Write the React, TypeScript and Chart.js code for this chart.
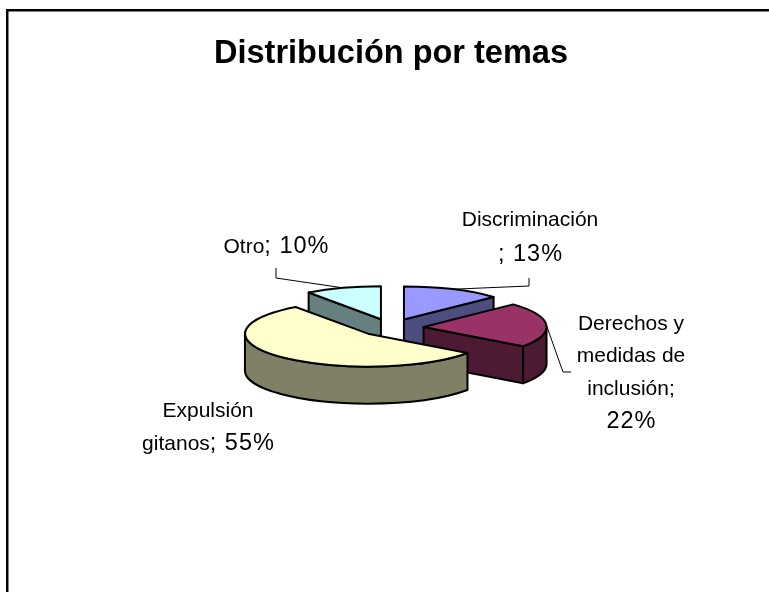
import React, { useEffect, useRef } from 'react';
import { Chart, registerables } from 'chart.js';

Chart.register(...registerables);

// ---- data ----
const TITLE = 'Distribución por temas';
const categories = ['Discriminación', 'Derechos y medidas de inclusión', 'Expulsión gitanos', 'Otro'];
const percentages = [13, 22, 55, 10];
const topColors = ['#9999FF', '#993366', '#FFFFCC', '#CCFFFF'];
const sideColors = ['#4D4D80', '#4D1A33', '#808066', '#668080'];
const labelLines = [
  ['Discriminación', `; ${percentages[0]}%`],
  ['Derechos y', 'medidas de', 'inclusión;', `${percentages[1]}%`],
  ['Expulsión', `gitanos; ${percentages[2]}%`],
  [`Otro; ${percentages[3]}%`],
];

// ---- styles / layout ----
const FONT = '"Liberation Sans", Arial, sans-serif';
const NAME_FONT = `21px ${FONT}`;
const VALUE_FONT = `23.5px ${FONT}`;
const VALUE_SPACING = 1;
const RADIUS = 123;
const TILT = 0.268;
const DEPTH = 37;
const EXPLODE = 32.6;
const labelLayout = [
  { cx: 530, top: 220, lh: 35, leader: [[529, 286], [529, 278]] },
  { cx: 631, top: 324, lh: 32.5, leader: [[563, 372], [571, 372]] },
  { cx: 208, top: 411, lh: 33, leader: [] as number[][] },
  { cx: 276, top: 247, lh: 33, leader: [[276, 278], [276, 268]] },
];

function sliceGeom(el: any) {
  const p = el.getProps(['x', 'y', 'startAngle', 'endAngle', 'outerRadius'], true);
  const mid = (p.startAngle + p.endAngle) / 2;
  const cx = p.x + EXPLODE * Math.cos(mid);
  const cy = p.y + EXPLODE * TILT * Math.sin(mid);
  return { ...p, mid, cx, cy, rx: p.outerRadius, ry: p.outerRadius * TILT };
}

function drawSlice(ctx: CanvasRenderingContext2D, el: any, i: number) {
  const g = sliceGeom(el);
  const P = (t: number, dz = 0) => [g.cx + g.rx * Math.cos(t), g.cy + g.ry * Math.sin(t) + dz];
  ctx.save();
  ctx.lineWidth = 2;
  ctx.strokeStyle = '#000';
  ctx.lineJoin = 'round';
  ctx.fillStyle = sideColors[i];
  // outer curved wall (front half only)
  for (let k = -1; k <= 1; k++) {
    const lo = Math.max(g.startAngle, 2 * Math.PI * k);
    const hi = Math.min(g.endAngle, 2 * Math.PI * k + Math.PI);
    if (hi > lo + 1e-6) {
      ctx.beginPath();
      ctx.ellipse(g.cx, g.cy, g.rx, g.ry, 0, lo, hi);
      const [bx, by] = P(hi, DEPTH);
      ctx.lineTo(bx, by);
      ctx.ellipse(g.cx, g.cy + DEPTH, g.rx, g.ry, 0, hi, lo, true);
      ctx.closePath();
      ctx.fill();
      ctx.stroke();
    }
  }
  // radial walls facing the viewer
  const walls: number[] = [];
  if (-Math.cos(g.startAngle) > 1e-6) walls.push(g.startAngle);
  if (Math.cos(g.endAngle) > 1e-6) walls.push(g.endAngle);
  for (const a of walls) {
    const [tx, ty] = P(a);
    ctx.beginPath();
    ctx.moveTo(g.cx, g.cy);
    ctx.lineTo(tx, ty);
    ctx.lineTo(tx, ty + DEPTH);
    ctx.lineTo(g.cx, g.cy + DEPTH);
    ctx.closePath();
    ctx.fill();
    ctx.stroke();
  }
  // top face drawn by the library's arc element, flattened
  ctx.save();
  ctx.translate(g.cx - g.x, g.cy);
  ctx.scale(1, TILT);
  ctx.translate(0, -g.y);
  el.draw(ctx);
  ctx.restore();
  // top outline
  ctx.beginPath();
  ctx.moveTo(g.cx, g.cy);
  ctx.ellipse(g.cx, g.cy, g.rx, g.ry, 0, g.startAngle, g.endAngle);
  ctx.closePath();
  ctx.stroke();
  ctx.restore();
}

function splitRuns(line: string): [string, string] {
  if (line.indexOf('%') < 0) return [line, ''];
  const idx = line.indexOf(';');
  if (idx >= 0) return [line.slice(0, idx), line.slice(idx)];
  return ['', line];
}

const pie3d = {
  id: 'pie3d',
  beforeDraw(chart: any) {
    const ctx = chart.ctx;
    ctx.save();
    ctx.fillStyle = '#fff';
    ctx.fillRect(0, 0, chart.width, chart.height);
    ctx.strokeStyle = '#000';
    ctx.lineWidth = 2.5;
    ctx.strokeRect(7.25, 10.25, 1000, 1000);
    ctx.restore();
  },
  beforeDatasetsDraw(chart: any) {
    const ctx = chart.ctx;
    const arcs = chart.getDatasetMeta(0).data;
    const order = arcs
      .map((_: any, i: number) => i)
      .sort((a: number, b: number) => Math.sin(sliceGeom(arcs[a]).mid) - Math.sin(sliceGeom(arcs[b]).mid));
    for (const i of order) drawSlice(ctx, arcs[i], i);
    return false;
  },
  afterDraw(chart: any) {
    const ctx = chart.ctx;
    const arcs = chart.getDatasetMeta(0).data;
    ctx.save();
    // leader lines
    ctx.strokeStyle = '#000';
    ctx.lineWidth = 1;
    arcs.forEach((el: any, i: number) => {
      const L = labelLayout[i];
      if (!L.leader.length) return;
      const g = sliceGeom(el);
      ctx.beginPath();
      ctx.moveTo(g.cx + g.rx * Math.cos(g.mid), g.cy + g.ry * Math.sin(g.mid));
      for (const [lx, ly] of L.leader) ctx.lineTo(lx, ly);
      ctx.stroke();
    });
    // labels
    ctx.fillStyle = '#000';
    ctx.textAlign = 'left';
    ctx.textBaseline = 'middle';
    labelLines.forEach((lines, i) => {
      const L = labelLayout[i];
      lines.forEach((t, j) => {
        const [name, value] = splitRuns(t);
        const y = L.top + j * L.lh;
        (ctx as any).letterSpacing = '0px';
        ctx.font = NAME_FONT;
        const w1 = name ? ctx.measureText(name).width : 0;
        ctx.font = VALUE_FONT;
        (ctx as any).letterSpacing = `${VALUE_SPACING}px`;
        const w2 = value ? ctx.measureText(value).width - VALUE_SPACING : 0;
        const x0 = L.cx - (w1 + w2) / 2;
        if (name) {
          (ctx as any).letterSpacing = '0px';
          ctx.font = NAME_FONT;
          ctx.fillText(name, x0, y);
        }
        if (value) {
          ctx.font = VALUE_FONT;
          (ctx as any).letterSpacing = `${VALUE_SPACING}px`;
          ctx.fillText(value, x0 + w1, y);
        }
      });
    });
    (ctx as any).letterSpacing = '0px';
    ctx.restore();
  },
};

export default function App() {
  const ref = useRef<HTMLCanvasElement | null>(null);
  useEffect(() => {
    if (!ref.current) return;
    const chart = new Chart(ref.current, {
      type: 'pie',
      data: {
        labels: categories,
        datasets: [
          {
            data: percentages,
            backgroundColor: topColors,
            borderWidth: 0,
            offset: 0,
            radius: RADIUS,
          } as any,
        ],
      },
      options: {
        animation: false,
        responsive: false,
        events: [],
        layout: { padding: { left: 13, right: 0, top: 0, bottom: 11 } },
        plugins: {
          legend: { display: false },
          tooltip: { enabled: false },
          title: {
            display: true,
            text: TITLE,
            color: '#000',
            font: { family: FONT, size: 32.5, weight: 'bold' },
            padding: { top: 35, bottom: 0 },
          },
        },
      } as any,
      plugins: [pie3d],
    });
    return () => chart.destroy();
  }, []);
  return (
    <div style={{ position: 'fixed', left: 0, top: 0, width: 769, height: 592, overflow: 'hidden', background: '#fff' }}>
      <canvas ref={ref} width={769} height={592} style={{ display: 'block' }} />
    </div>
  );
}
